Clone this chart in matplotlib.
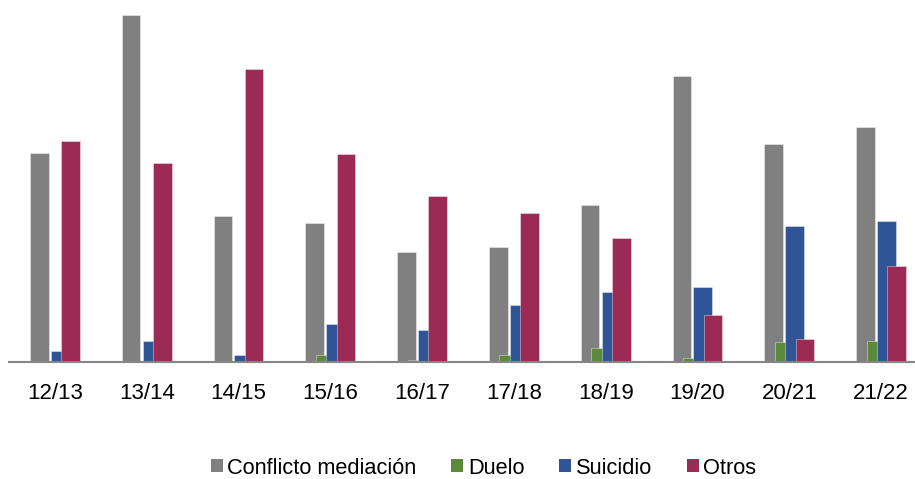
import matplotlib
matplotlib.use("Agg")
import matplotlib.pyplot as plt
from matplotlib.patches import Patch
import numpy as np

categories = ["12/13", "13/14", "14/15", "15/16", "16/17", "17/18", "18/19", "19/20", "20/21", "21/22"]
conflicto = [208.7, 347, 145.7, 139, 109.7, 114.7, 156.7, 285.7, 218, 235]
duelo = [0, 0, 0, 7.3, 2.3, 7, 14.3, 3.7, 20.3, 20.7]
suicidio = [11.3, 21, 6.7, 38.3, 31.7, 57, 70.3, 75, 136, 141.3]
otros = [221.3, 198.7, 292.7, 208.3, 166.3, 149, 123.7, 46.7, 23, 96]

series = [("Conflicto mediación", conflicto, "#808080"),
          ("Duelo", duelo, "#5b8a3b"),
          ("Suicidio", suicidio, "#2f5597"),
          ("Otros", otros, "#9b2a55")]

plt.rcParams['font.family'] = ['Liberation Sans', 'DejaVu Sans']

W, H = 915, 479
fig = plt.figure(figsize=(W / 100, H / 100), dpi=100)
ax = fig.add_axes([9 / W, (H - 362) / H, 918 / W, 362 / H])

x = np.arange(len(categories))
step = 0.113
width = 0.2015
offsets = [-1.5, -0.5, 0.5, 1.5]
for (name, vals, col), off in zip(series, offsets):
    ax.bar(x + off * step, vals, width=width, color=col,
           edgecolor=(1, 1, 1, 0.45), linewidth=0.6, zorder=2)

ax.set_xlim(-0.5, len(categories) - 0.5)
ax.set_ylim(0, 362)
ax.set_xticks(x)
ax.set_xticklabels(categories, fontsize=16)
ax.tick_params(axis='x', length=0, pad=15)
ax.set_yticks([])
for s in ['top', 'right', 'left']:
    ax.spines[s].set_visible(False)
ax.spines['bottom'].set_color('#868686')
ax.spines['bottom'].set_linewidth(1.5)
ax.spines['bottom'].set_zorder(3)

handles = [Patch(facecolor=c, edgecolor='none', label=n) for n, _, c in series]
fig.legend(handles=handles, loc='lower center', bbox_to_anchor=(483.5 / W, 0.5 / H),
           ncol=4, frameon=False, fontsize=15.7, handlelength=0.55, handleheight=0.55,
           handletextpad=0.2, columnspacing=1.6, borderaxespad=0, borderpad=0)

fig.savefig("out.png", dpi=100)
